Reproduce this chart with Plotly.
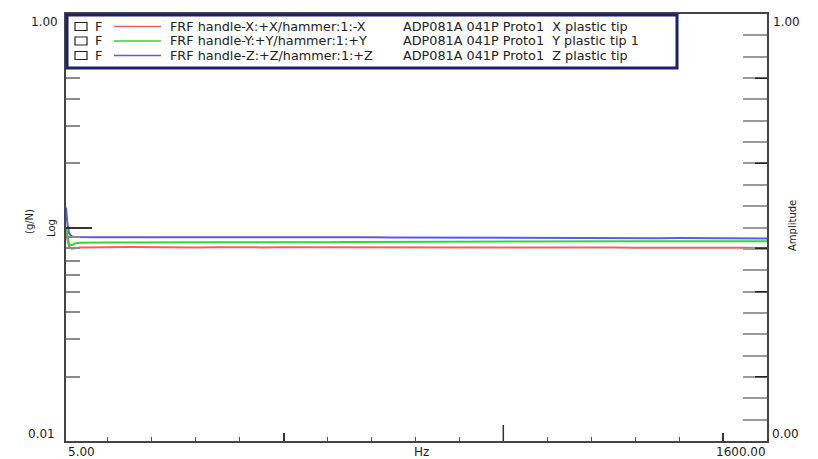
import math
import plotly.graph_objects as go

# ---- data ----
freq_hz = [5, 8, 12, 18, 25, 35, 50, 75, 100, 150, 200, 250, 300, 350, 400, 450, 500,
           550, 600, 650, 700, 750, 800, 850, 900, 950, 1000, 1050, 1100, 1150, 1200,
           1250, 1300, 1350, 1400, 1450, 1500, 1550, 1600]
frf_x = [0.0937, 0.0870, 0.0815, 0.0795, 0.0800, 0.0805, 0.0807, 0.0806, 0.0808, 0.0810,
         0.0807, 0.0809, 0.0806, 0.0808, 0.0806, 0.0807, 0.0809, 0.0808, 0.0806, 0.0807,
         0.0808, 0.0806, 0.0805, 0.0807, 0.0806, 0.0805, 0.0806, 0.0807, 0.0805, 0.0804,
         0.0806, 0.0805, 0.0804, 0.0805, 0.0803, 0.0804, 0.0802, 0.0803, 0.0801]
frf_y = [0.0990, 0.0900, 0.0835, 0.0826, 0.0842, 0.0848, 0.0850, 0.0849, 0.0851, 0.0850,
         0.0852, 0.0851, 0.0850, 0.0852, 0.0853, 0.0852, 0.0854, 0.0855, 0.0854, 0.0856,
         0.0857, 0.0856, 0.0858, 0.0859, 0.0858, 0.0860, 0.0860, 0.0861, 0.0860, 0.0862,
         0.0861, 0.0862, 0.0863, 0.0862, 0.0863, 0.0864, 0.0863, 0.0864, 0.0863]
frf_z = [0.1240, 0.1050, 0.0940, 0.0908, 0.0903, 0.0901, 0.0902, 0.0900, 0.0901, 0.0902,
         0.0900, 0.0899, 0.0901, 0.0900, 0.0899, 0.0900, 0.0898, 0.0899, 0.0897, 0.0898,
         0.0899, 0.0897, 0.0896, 0.0897, 0.0896, 0.0895, 0.0896, 0.0894, 0.0895, 0.0893,
         0.0894, 0.0892, 0.0893, 0.0891, 0.0892, 0.0890, 0.0891, 0.0890, 0.0889]

series_names = ["FRF handle-X:+X/hammer:1:-X", "FRF handle-Y:+Y/hammer:1:+Y",
                "FRF handle-Z:+Z/hammer:1:+Z"]
series_desc = ["ADP081A 041P Proto1\u00a0\u00a0X plastic tip",
               "ADP081A 041P Proto1\u00a0\u00a0Y plastic tip 1",
               "ADP081A 041P Proto1\u00a0\u00a0Z plastic tip"]
series_colors = ["#f06060", "#30d830", "#5a5ae6"]

x_minor_ticks = [100, 200, 300, 400, 600, 700, 800, 900, 1100, 1200, 1300, 1400]
x_major_ticks = [500, 1500]
y_log_minor = [0.02, 0.03, 0.04, 0.05, 0.06, 0.07, 0.08, 0.09,
               0.2, 0.3, 0.4, 0.5, 0.6, 0.7, 0.8, 0.9]
y_right_ticks = [round(0.05 * k, 2) for k in range(1, 20)]
right_dark_log = [0.02, 0.05, 0.08, 0.2, 0.5]

# ---- geometry (pixels) ----
W, H = 818, 459
L, R, T, B = 66, 767, 14, 441
PW, PH = R - L, B - T

def px(x):
    return (x - L) / PW

def py(y):
    return (B - y) / PH

FONT = "DejaVu Sans"
TXT = "#222222"

fig = go.Figure()
for vals, name, col in zip([frf_x, frf_y, frf_z], series_names, series_colors):
    fig.add_trace(go.Scatter(x=freq_hz, y=vals, mode="lines", name=name,
                             line=dict(color=col, width=2), showlegend=False))
fig.add_trace(go.Scatter(x=[None], y=[None], yaxis="y2", showlegend=False,
                         hoverinfo="skip"))

fig.update_layout(
    width=W, height=H,
    margin=dict(l=L, r=W - R, t=T, b=H - B),
    paper_bgcolor="white", plot_bgcolor="white",
    xaxis=dict(range=[5, 1600], showgrid=False, zeroline=False, showline=True,
               linecolor="#444444", linewidth=2, mirror=True,
               ticks="inside", tickmode="array", tickvals=x_major_ticks,
               ticklen=8, tickwidth=1.5, tickcolor="#333333", showticklabels=False,
               minor=dict(tickmode="array", tickvals=x_minor_ticks, ticks="inside",
                          ticklen=4, tickwidth=1, tickcolor="#555555", showgrid=False)),
    yaxis=dict(type="log", range=[-2, 0], showgrid=False, zeroline=False, showline=True,
               linecolor="#444444", linewidth=2,
               ticks="inside", tickmode="array", tickvals=[0.1], ticklen=26,
               tickwidth=1.5, tickcolor="#333333", showticklabels=False,
               minor=dict(tickmode="array", tickvals=y_log_minor, ticks="inside",
                          ticklen=14, tickwidth=1.5, tickcolor="#8a8a8a", showgrid=False)),
    yaxis2=dict(overlaying="y", side="right", range=[0, 1], showgrid=False,
                zeroline=False, showline=True, linecolor="#444444", linewidth=2,
                ticks="inside", tickmode="array", tickvals=y_right_ticks, ticklen=24,
                tickwidth=1.5, tickcolor="#9a9a9a", showticklabels=False),
)

shapes = []
for v in right_dark_log:
    f = (math.log10(v) + 2) / 2
    shapes.append(dict(type="line", xref="paper", yref="y2", x0=1 - 12 / PW, x1=1,
                       y0=f, y1=f, line=dict(color="#222222", width=1.5)))
# long tick at 1000 Hz
shapes.append(dict(type="line", xref="x", yref="paper", x0=1000, x1=1000,
                   y0=0, y1=16 / PH, line=dict(color="#333333", width=1.5)))
# legend box
shapes.append(dict(type="rect", xref="paper", yref="paper", x0=px(67), x1=px(677),
                   y0=py(68), y1=py(15), fillcolor="white",
                   line=dict(color="#1e1e6e", width=3), layer="above"))
rows = [26.5, 41, 55.5]
annotations = []
for r, name, desc, col in zip(rows, series_names, series_desc, series_colors):
    shapes.append(dict(type="rect", xref="paper", yref="paper", x0=px(75), x1=px(87),
                       y0=py(r + 4), y1=py(r - 4), line=dict(color="#222222", width=1.2),
                       fillcolor="white", layer="above"))
    shapes.append(dict(type="line", xref="paper", yref="paper", x0=px(114), x1=px(161),
                       y0=py(r), y1=py(r), line=dict(color=col, width=1.5), layer="above"))
    for xx, t in [(94, "F"), (169, name), (402, desc)]:
        annotations.append(dict(xref="paper", yref="paper", x=px(xx), y=py(r), text=t,
                                showarrow=False, xanchor="left", yanchor="middle",
                                borderpad=0,
                                font=dict(family=FONT, size=12.8, color=TXT)))

def lab(x, y, t, xa="center", angle=0, size=12):
    annotations.append(dict(xref="paper", yref="paper", x=px(x), y=py(y), text=t,
                            showarrow=False, xanchor=xa, yanchor="middle",
                            textangle=angle, font=dict(family=FONT, size=size, color=TXT)))

lab(60, 22, "1.00", "right")
lab(57, 434, "0.01", "right")
lab(771, 22, "1.00", "left")
lab(770, 434, "0.00", "left")
lab(81, 452, "5.00")
lab(741, 452, "1600.00")
lab(421, 452, "Hz")
lab(51, 228, "Log", angle=-90, size=10)
lab(29, 222, "(g/N)", angle=-90, size=10)
lab(792, 226, "Amplitude", angle=-90, size=10)

fig.update_layout(shapes=shapes, annotations=annotations)
fig.write_html("out.html", config={"displayModeBar": False},
               post_script="document.body.style.margin='0';")
